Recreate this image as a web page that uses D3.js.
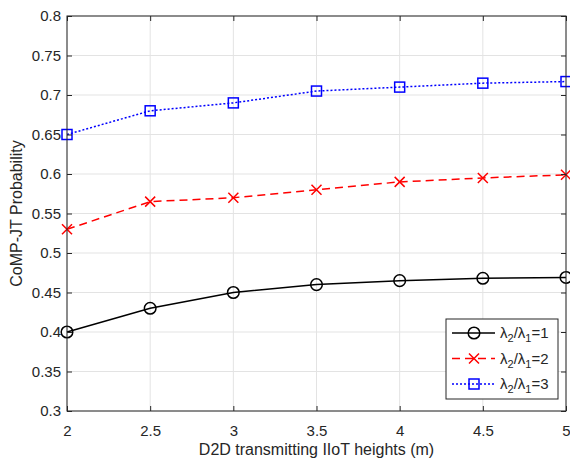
<!DOCTYPE html>
<html><head><meta charset="utf-8">
<script src="https://cdn.jsdelivr.net/npm/d3@7"></script>
<style>body{margin:0;background:#fff}svg{display:block}text{font-family:"Liberation Sans",Arial,sans-serif;fill:#262626}</style>
</head><body><svg id="c" width="570" height="461"></svg>
<script>
const xValues = [2, 2.5, 3, 3.5, 4, 4.5, 5];
const series1 = [0.40, 0.43, 0.45, 0.46, 0.465, 0.468, 0.469];
const series2 = [0.53, 0.565, 0.57, 0.58, 0.59, 0.595, 0.599];
const series3 = [0.65, 0.68, 0.69, 0.705, 0.71, 0.715, 0.717];
const xTicks = [2, 2.5, 3, 3.5, 4, 4.5, 5];
const yTicks = [0.3, 0.35, 0.4, 0.45, 0.5, 0.55, 0.6, 0.65, 0.7, 0.75, 0.8];
const legendLabels = ["1", "2", "3"];

const svg = d3.select("#c");
const L = 67, R = 566, T = 16, B = 411;
const x = d3.scaleLinear().domain([2, 5]).range([L, R]);
const y = d3.scaleLinear().domain([0.3, 0.8]).range([B, T]);
const axisColor = "#262626";

// grid
const g = svg.append("g");
g.selectAll(".gx").data(xTicks).join("line")
  .attr("x1", d => x(d)).attr("x2", d => x(d)).attr("y1", T).attr("y2", B)
  .attr("stroke", "#e3e3e3").attr("stroke-width", 1);
g.selectAll(".gy").data(yTicks).join("line")
  .attr("y1", d => y(d)).attr("y2", d => y(d)).attr("x1", L).attr("x2", R)
  .attr("stroke", "#e3e3e3").attr("stroke-width", 1);

// series
const styles = [
  {data: series1, color: "#000000", dash: null, marker: "circle"},
  {data: series2, color: "#ff0000", dash: "8,5", marker: "x"},
  {data: series3, color: "#0000ff", dash: "2,2", marker: "square"}
];
const line = d3.line().x(d => x(d[0])).y(d => y(d[1]));
function drawMarker(sel, type, color) {
  if (type === "circle") {
    sel.append("circle").attr("r", 5.8).attr("fill", "none").attr("stroke", color).attr("stroke-width", 1.5);
  } else if (type === "x") {
    sel.append("path").attr("d", "M-5,-5L5,5M-5,5L5,-5").attr("stroke", color).attr("stroke-width", 1.5);
  } else {
    sel.append("rect").attr("x", -5).attr("y", -5).attr("width", 10).attr("height", 10)
      .attr("fill", "none").attr("stroke", color).attr("stroke-width", 1.5);
  }
}
styles.forEach(s => {
  const pts = xValues.map((v, i) => [v, s.data[i]]);
  svg.append("path").datum(pts).attr("d", line).attr("fill", "none")
    .attr("stroke", s.color).attr("stroke-width", 1.5)
    .attr("stroke-dasharray", s.dash);
  pts.forEach(p => {
    const m = svg.append("g").attr("transform", `translate(${x(p[0])},${y(p[1])})`);
    drawMarker(m, s.marker, s.color);
  });
});

// axes
svg.append("g").attr("transform", `translate(0,${B})`)
  .call(d3.axisBottom(x).tickValues(xTicks).tickSize(-5).tickPadding(14).tickFormat(d3.format("")));
svg.append("g").attr("transform", `translate(${L},0)`)
  .call(d3.axisLeft(y).tickValues(yTicks).tickSize(-5).tickPadding(6).tickFormat(d => String(+d.toFixed(2))));
svg.append("g").attr("transform", `translate(0,${T})`)
  .call(d3.axisTop(x).tickValues(xTicks).tickSize(-5).tickFormat(""));
svg.append("g").attr("transform", `translate(${R},0)`)
  .call(d3.axisRight(y).tickValues(yTicks).tickSize(-5).tickFormat(""));
svg.selectAll(".domain").attr("stroke", "none");
svg.selectAll(".tick line").attr("stroke", axisColor);
svg.selectAll(".tick text").style("font-size", "15px").attr("fill", axisColor);

// box outline
svg.append("rect").attr("x", L).attr("y", T).attr("width", R - L).attr("height", B - T)
  .attr("fill", "none").attr("stroke", axisColor).attr("stroke-width", 1);

// labels
svg.append("text").attr("x", (L + R) / 2).attr("y", 455).attr("text-anchor", "middle")
  .style("font-size", "16px").text("D2D transmitting IIoT heights (m)");
svg.append("text").attr("transform", `translate(22,${(T + B) / 2}) rotate(-90)`)
  .attr("text-anchor", "middle").style("font-size", "16px").text("CoMP-JT Probability");

// legend
const lx = 446, ly = 319, lw = 112, lh = 80;
const lg = svg.append("g");
lg.append("rect").attr("x", lx).attr("y", ly).attr("width", lw).attr("height", lh)
  .attr("fill", "#fff").attr("stroke", axisColor).attr("stroke-width", 1);
styles.forEach((s, i) => {
  const cy = ly + 14 + i * 25.5;
  lg.append("line").attr("x1", lx + 6).attr("x2", lx + 49).attr("y1", cy).attr("y2", cy)
    .attr("stroke", s.color).attr("stroke-width", 1.5).attr("stroke-dasharray", s.dash);
  const m = lg.append("g").attr("transform", `translate(${lx + 28},${cy})`);
  drawMarker(m, s.marker, s.color);
  const t = lg.append("text").attr("x", lx + 54).attr("y", cy + 5).style("font-size", "15px");
  t.append("tspan").text("λ");
  t.append("tspan").attr("dy", 4).style("font-size", "11px").text("2");
  t.append("tspan").attr("dy", -4).text("/λ");
  t.append("tspan").attr("dy", 4).style("font-size", "11px").text("1");
  t.append("tspan").attr("dy", -4).text("=" + legendLabels[i]);
});
</script></body></html>
